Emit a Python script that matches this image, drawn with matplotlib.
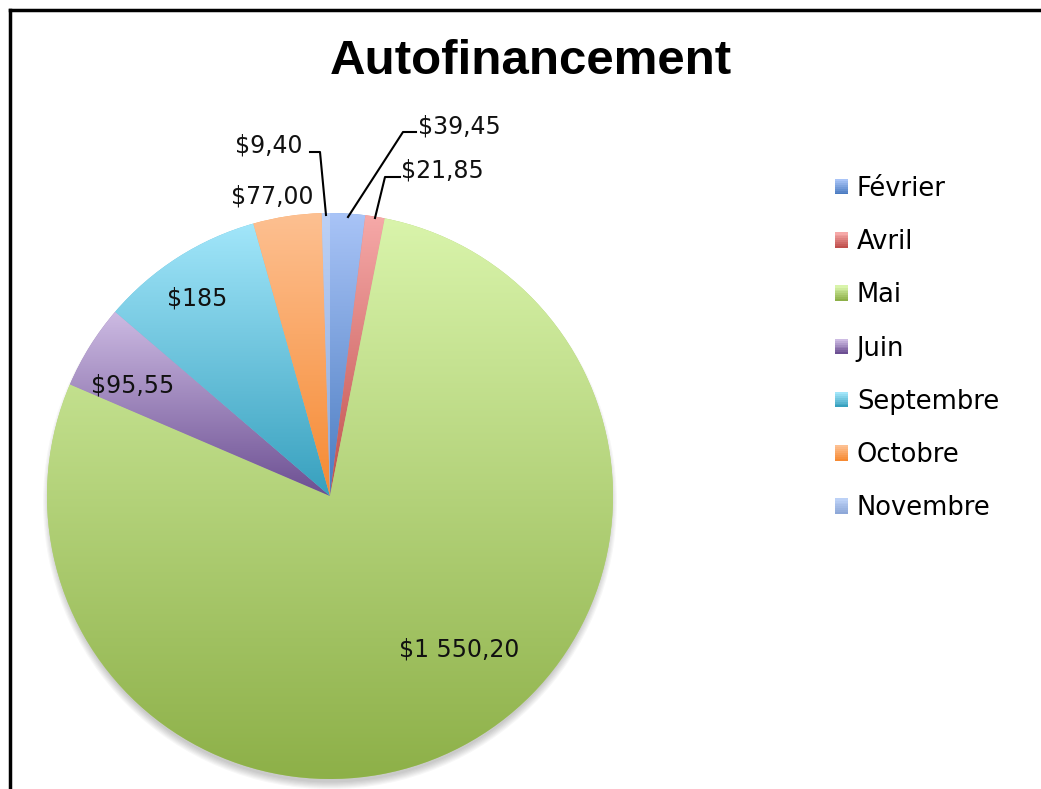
import numpy as np
import matplotlib
matplotlib.use("Agg")
import matplotlib.pyplot as plt
from matplotlib.colors import LinearSegmentedColormap, to_rgb
from matplotlib.patches import Circle, Rectangle
from matplotlib.lines import Line2D
from matplotlib.legend_handler import HandlerBase

# ---- data ----
months = ["Février", "Avril", "Mai", "Juin", "Septembre", "Octobre", "Novembre"]
amounts = [39.45, 21.85, 1550.20, 95.55, 185.00, 77.00, 9.40]
value_labels = ["$39,45", "$21,85", "$1 550,20", "$95,55", "$185", "$77,00", "$9,40"]
title = "Autofinancement"

# ---- styles ----
light_cols = ["#A9C4F7", "#F6A9A8", "#D9F4AB", "#CDBBE3", "#A2E6FA", "#FDC091", "#BCD1F6"]
dark_cols = ["#4A7BC0", "#C0504D", "#8DB048", "#6C4F92", "#37A0BE", "#F68A33", "#8EA8D8"]
# label anchor positions in pixels (x, y from top)
label_px = [(418, 126), (401, 170), (459, 650), (133, 385), (197, 298), (272, 196), (303, 145)]
label_ha = ["left", "left", "center", "center", "center", "center", "right"]
leaders = [
    [(416, 132), (403, 132), (348, 217)],
    [(400, 177), (385, 177), (375, 218)],
    None, None, None, None,
    [(310, 152), (320, 152), (326, 215)],
]

W, H, DPI = 1041, 789, 100
fig = plt.figure(figsize=(W / DPI, H / DPI), dpi=DPI)
fig.patch.set_facecolor("white")

cx, cy, R = 330, 496, 283  # pixel geometry of pie
M = 1.1
ax = fig.add_axes([(cx - R * M) / W, (H - cy - R * M) / H, 2 * R * M / W, 2 * R * M / H])
ax.axis("off")

def px2d(p):
    return ((p[0] - cx) / R, (cy - p[1]) / R)

# soft shadow
for k in range(7):
    ax.add_patch(Circle((0.0, -0.022), 0.99 + 0.004 * k, facecolor="black",
                        alpha=0.03, linewidth=0, zorder=0, clip_on=False))

mid_cols = [tuple((np.array(to_rgb(a)) + np.array(to_rgb(b))) / 2) for a, b in zip(light_cols, dark_cols)]
wedges, _ = ax.pie(amounts, startangle=90, counterclock=False, radius=1.0,
                   colors=mid_cols, wedgeprops=dict(linewidth=0), frame=False)

for w, lc, dc in zip(wedges, light_cols, dark_cols):
    w.set_zorder(1)
    bb = w.get_path().get_extents()
    cmap = LinearSegmentedColormap.from_list("g", [dc, lc])
    grad = np.linspace(0, 1, 256).reshape(-1, 1)
    im = ax.imshow(grad, cmap=cmap, origin="lower", aspect="auto",
                   extent=[bb.x0, bb.x1, bb.y0, bb.y1], zorder=2, interpolation="bilinear")
    im.set_clip_path(w)

ax.set_xlim(-M, M)
ax.set_ylim(-M, M)
ax.set_aspect("equal")

fs = 17
for lab, p, ha in zip(value_labels, label_px, label_ha):
    x, y = px2d(p)
    ax.text(x, y, lab, ha=ha, va="center", fontsize=fs, color="#111111",
            family="DejaVu Sans", zorder=5, clip_on=False)
for ld in leaders:
    if ld is None:
        continue
    pts = [px2d(p) for p in ld]
    ax.plot([p[0] for p in pts], [p[1] for p in pts], color="black", lw=1.5,
            zorder=4, clip_on=False)


class GradHandler(HandlerBase):
    def __init__(self, light, dark, n=8):
        super().__init__()
        self.light, self.dark, self.n = np.array(to_rgb(light)), np.array(to_rgb(dark)), n

    def create_artists(self, legend, orig_handle, xdescent, ydescent, width, height,
                       fontsize, trans):
        arts = []
        for i in range(self.n):
            t = i / (self.n - 1)
            c = self.dark * (1 - t) + self.light * t
            r = Rectangle((-xdescent, -ydescent + height * i / self.n), width,
                          height / self.n + 0.3, facecolor=c, edgecolor="none",
                          transform=trans)
            arts.append(r)
        return arts


handles = [Rectangle((0, 0), 1, 1, facecolor=c, edgecolor="none") for c in mid_cols]
hmap = {h: GradHandler(l, d) for h, l, d in zip(handles, light_cols, dark_cols)}
lfs = 18.5
fig.legend(handles, months, loc="upper left", bbox_to_anchor=(835 / W, 1 - 176 / H),
           frameon=False, handlelength=0.52, handleheight=0.52,
           handletextpad=0.33, labelspacing=1.06, borderpad=0, borderaxespad=0,
           prop=dict(family="DejaVu Sans", size=lfs), handler_map=hmap)

fig.text(531 / W, 1 - 62 / H, title, ha="center", va="center", fontsize=35.5,
         fontweight="bold", family="Liberation Sans", color="black")

# border
fig.add_artist(Line2D([10 / W, 10 / W], [0, 1 - 10 / H], color="black", lw=2.5,
                      transform=fig.transFigure))
fig.add_artist(Line2D([10 / W, 1], [1 - 10 / H, 1 - 10 / H], color="black", lw=2.5,
                      transform=fig.transFigure))

fig.savefig("out.png", dpi=DPI, facecolor="white")
